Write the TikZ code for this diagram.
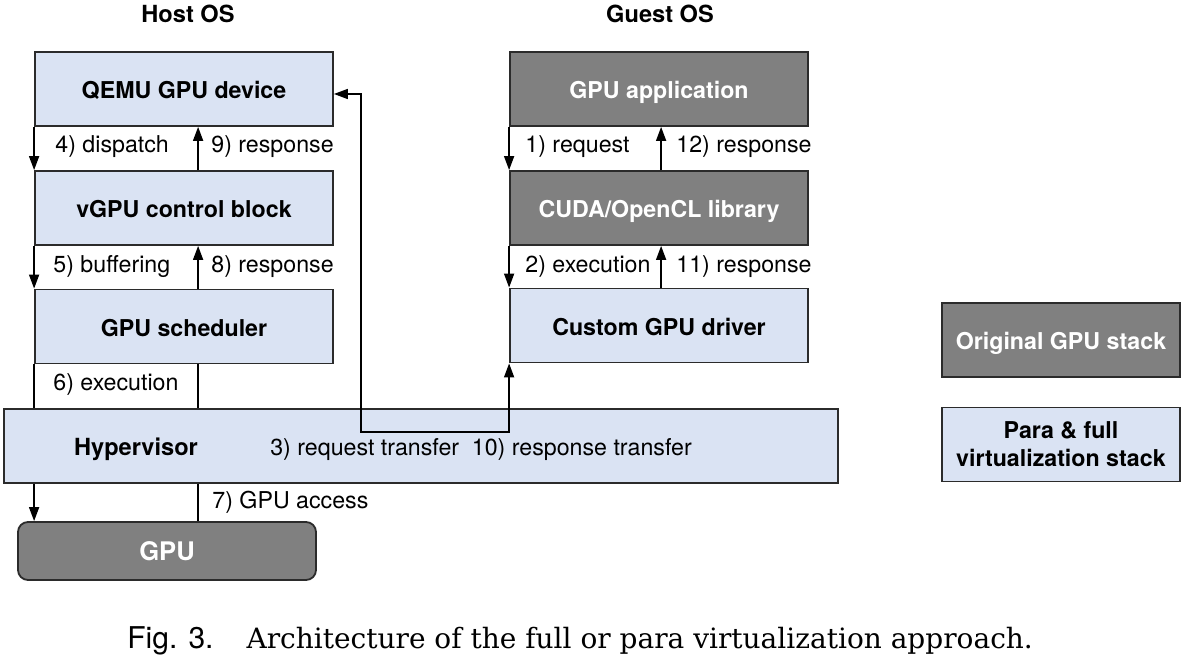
\documentclass[tikz,border=0pt]{standalone}
\usepackage{fontspec}
\usepackage[HTML]{xcolor}
\usetikzlibrary{positioning, arrows, arrows.meta}
\newfontfamily\heros{TeX Gyre Heros}
\newfontfamily\capserif{DejaVu Serif}
\definecolor{paraBlue}{HTML}{DAE3F3}
\definecolor{origGray}{HTML}{808080}
\definecolor{edgeGray}{HTML}{2B2B2B}

\begin{document}
\begin{tikzpicture}[x=0.5pt,y=-0.5pt,
  font=\heros\fontsize{11.6}{14}\selectfont,
  head/.style={font=\heros\bfseries\fontsize{11.8}{14}\selectfont},
  layer/.style={draw=edgeGray,line width=0.9pt,minimum width=149pt,minimum height=37pt,inner sep=0pt,font=\heros\bfseries\fontsize{11.6}{14}\selectfont},
  para/.style={layer,fill=paraBlue,text height=9.6pt,text depth=0pt},
  orig/.style={layer,fill=origGray,text=white,text height=9.6pt,text depth=0pt},
  flow/.style={-{Triangle[width=5pt,length=7pt]},line width=0.8pt},
  both/.style={{Triangle[width=5pt,length=7pt]}-{Triangle[width=5pt,length=7pt]},line width=0.8pt},
  link/.style={line width=0.8pt},
  lbl/.style={anchor=base west,inner sep=0pt}]
\useasboundingbox (0,0) rectangle (1186,657);

% titles
\node[head] (host) at (188,14) {Host OS};
\node[head] (guest) at (660,14) {Guest OS};

% host stack
\node[para] (qemu) at (184,89) {QEMU GPU device};
\node[para] (vgpu) at (184,208) {vGPU control block};
\node[para] (sched) at (184,326.5) {GPU scheduler};
\node[layer,fill=paraBlue,minimum width=417pt] (hyper) at (421,446) {};
\node[head,anchor=base] (hypername) at (136,455) {Hypervisor};
\node[anchor=base] (transfer) at (481,455) {3) request transfer\hspace{0.55em}10) response transfer};
\node[orig,rounded corners=5pt,minimum height=29pt,font=\heros\bfseries\fontsize{12.8}{14}\selectfont] (gpu) at (167,551) {GPU};

% guest stack
\node[orig] (app) at (659,89) {GPU application};
\node[orig] (cuda) at (659,208) {CUDA/OpenCL library};
\node[para] (driver) at (659,325.5) {Custom GPU driver};

% legend
\node[orig,minimum width=119pt] (legorig) at (1061,340) {Original GPU stack};
\node[layer,fill=paraBlue,minimum width=119pt,align=center] (legpara) at (1061,444.5) {Para \& full\\virtualization stack};

% host side flow
\draw[flow] (qemu.south west) -- (vgpu.north west);
\draw[flow] ([xshift=82pt]vgpu.north west) -- ([xshift=82pt]qemu.south west);
\draw[flow] (vgpu.south west) -- (sched.north west);
\draw[flow] ([xshift=82pt]sched.north west) -- ([xshift=82pt]vgpu.south west);
\draw[link] (sched.south west) -- (sched.south west |- hyper.north);
\draw[link] ([xshift=82pt]sched.south west) -- ([xshift=82pt]sched.south west |- hyper.north);
\draw[flow] (sched.south west |- hyper.south) -- (sched.south west |- gpu.north);
\draw[link] ([xshift=82pt]sched.south west |- hyper.south) -- ([xshift=82pt]sched.south west |- gpu.north);

\node[lbl] (l4) at (55,153) {4) dispatch};
\node[lbl] (l9) at (211,153) {9) response};
\node[lbl] (l5) at (53,272) {5) buffering};
\node[lbl] (l8) at (211,272) {8) response};
\node[lbl] (l6) at (53,390) {6) execution};
\node[lbl] (l7) at (212,508) {7) GPU access};

% guest side flow
\draw[flow] (app.south west) -- (cuda.north west);
\draw[flow] ([xshift=76pt]cuda.north west) -- ([xshift=76pt]app.south west);
\draw[flow] (cuda.south west) -- (driver.north west);
\draw[flow] ([xshift=76pt]driver.north west) -- ([xshift=76pt]cuda.south west);

\node[lbl] (l1) at (525,153) {1) request};
\node[lbl] (l12) at (676,153) {12) response};
\node[lbl] (l2) at (525,272) {2) execution};
\node[lbl] (l11) at (676,272) {11) response};

% transfer through the hypervisor
\coordinate (turn) at (361,432);
\draw[both] (driver.south west) |- (turn) |- ([yshift=-2.5pt]qemu.east);

\node[anchor=base west,inner sep=0pt] (caption) at (127,648) {{\heros\fontsize{15}{18}\selectfont Fig. 3.}\hspace{16.5pt}{\capserif\fontsize{14}{18}\selectfont Architecture of the full or para virtualization approach.}};
\end{tikzpicture}
\end{document}
